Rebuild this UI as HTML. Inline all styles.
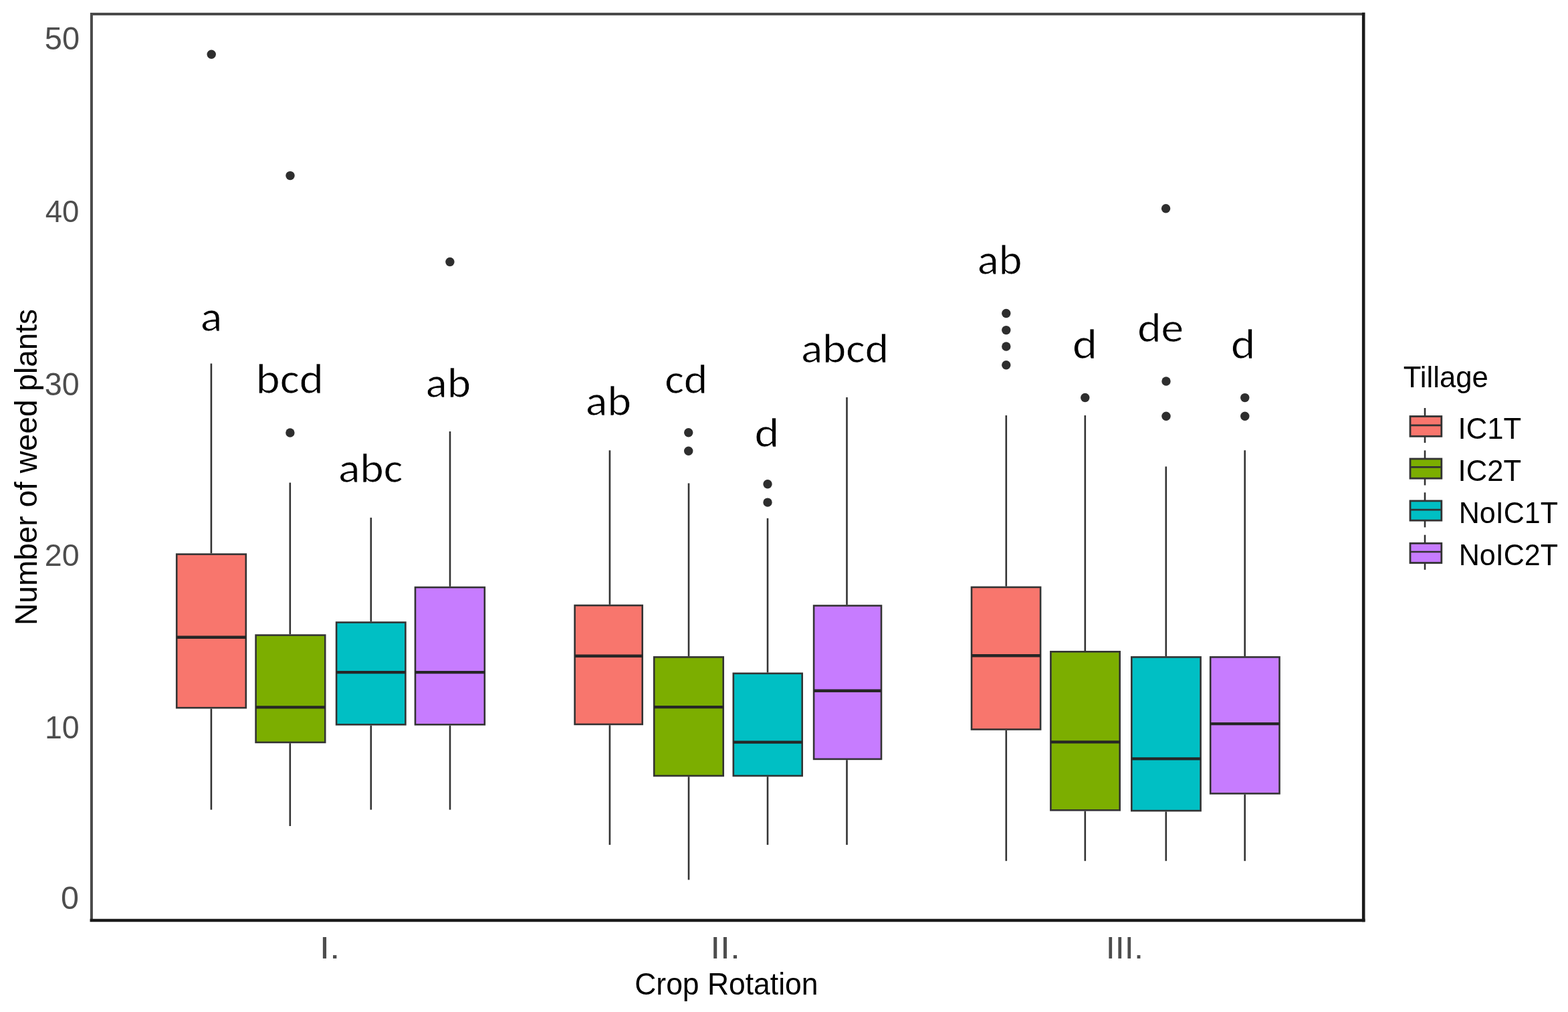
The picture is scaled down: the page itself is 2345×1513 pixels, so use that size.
<!DOCTYPE html>
<html><head><meta charset="utf-8"><title>Number of weed plants by Crop Rotation and Tillage</title>
<style>
html,body{margin:0;padding:0;background:#fff;}
svg{display:block;}
.tk{font-family:"Liberation Sans",Arial,sans-serif;font-size:46px;fill:#4d4d4d;}
.ti{font-family:"Liberation Sans",Arial,sans-serif;font-size:46px;fill:#000;}
.lg{font-family:"Liberation Sans",Arial,sans-serif;font-size:44px;fill:#000;}
.lt{font-family:"Carlito","Liberation Sans",sans-serif;font-size:65px;fill:#000;stroke:#fff;stroke-width:0.7px;paint-order:fill stroke;}
</style></head>
<body>
<svg width="2345" height="1513" viewBox="0 0 2345 1513">
<rect x="0" y="0" width="2345" height="1513" fill="#fff"/>
<g stroke="#333333" fill="none">
<line x1="315.9" y1="543.5" x2="315.9" y2="827.3" stroke-width="2.6"/><line x1="315.9" y1="1059.5" x2="315.9" y2="1210.6" stroke-width="2.6"/>
<line x1="433.8" y1="721.6" x2="433.8" y2="948.3" stroke-width="2.6"/><line x1="433.8" y1="1111.2" x2="433.8" y2="1235.0" stroke-width="2.6"/>
<line x1="554.8" y1="773.9" x2="554.8" y2="929.2" stroke-width="2.6"/><line x1="554.8" y1="1084.6" x2="554.8" y2="1210.6" stroke-width="2.6"/>
<line x1="673.0" y1="645.0" x2="673.0" y2="876.8" stroke-width="2.6"/><line x1="673.0" y1="1084.6" x2="673.0" y2="1210.6" stroke-width="2.6"/>
<line x1="911.9" y1="673.3" x2="911.9" y2="903.8" stroke-width="2.6"/><line x1="911.9" y1="1084.2" x2="911.9" y2="1263.1" stroke-width="2.6"/>
<line x1="1030.0" y1="722.4" x2="1030.0" y2="981.1" stroke-width="2.6"/><line x1="1030.0" y1="1161.2" x2="1030.0" y2="1315.4" stroke-width="2.6"/>
<line x1="1148.0" y1="774.8" x2="1148.0" y2="1005.5" stroke-width="2.6"/><line x1="1148.0" y1="1161.2" x2="1148.0" y2="1263.1" stroke-width="2.6"/>
<line x1="1266.5" y1="593.9" x2="1266.5" y2="904.2" stroke-width="2.6"/><line x1="1266.5" y1="1136.2" x2="1266.5" y2="1263.1" stroke-width="2.6"/>
<line x1="1504.8" y1="621.0" x2="1504.8" y2="876.6" stroke-width="2.6"/><line x1="1504.8" y1="1091.8" x2="1504.8" y2="1287.2" stroke-width="2.6"/>
<line x1="1622.8" y1="621.0" x2="1622.8" y2="973.0" stroke-width="2.6"/><line x1="1622.8" y1="1212.6" x2="1622.8" y2="1287.2" stroke-width="2.6"/>
<line x1="1743.8" y1="697.5" x2="1743.8" y2="981.1" stroke-width="2.6"/><line x1="1743.8" y1="1213.4" x2="1743.8" y2="1287.2" stroke-width="2.6"/>
<line x1="1861.7" y1="673.2" x2="1861.7" y2="981.1" stroke-width="2.6"/><line x1="1861.7" y1="1187.7" x2="1861.7" y2="1287.2" stroke-width="2.6"/>
</g>
<rect x="264.2" y="828.6" width="103.6" height="229.6" fill="#F8766D" stroke="#333333" stroke-width="2.6"/><line x1="264.2" y1="952.7" x2="367.8" y2="952.7" stroke="#262626" stroke-width="4.4"/>
<rect x="382.6" y="949.6" width="103.6" height="160.3" fill="#7CAE00" stroke="#333333" stroke-width="2.6"/><line x1="382.6" y1="1057.4" x2="486.2" y2="1057.4" stroke="#262626" stroke-width="4.4"/>
<rect x="503.1" y="930.5" width="103.3" height="152.8" fill="#00BFC4" stroke="#333333" stroke-width="2.6"/><line x1="503.1" y1="1005.1" x2="606.4" y2="1005.1" stroke="#262626" stroke-width="4.4"/>
<rect x="621.0" y="878.1" width="103.8" height="205.2" fill="#C77CFF" stroke="#333333" stroke-width="2.6"/><line x1="621.0" y1="1005.1" x2="724.8" y2="1005.1" stroke="#262626" stroke-width="4.4"/>
<rect x="859.6" y="905.1" width="101.1" height="177.8" fill="#F8766D" stroke="#333333" stroke-width="2.6"/><line x1="859.6" y1="980.7" x2="960.7" y2="980.7" stroke="#262626" stroke-width="4.4"/>
<rect x="978.2" y="982.4" width="103.5" height="177.5" fill="#7CAE00" stroke="#333333" stroke-width="2.6"/><line x1="978.2" y1="1057.1" x2="1081.7" y2="1057.1" stroke="#262626" stroke-width="4.4"/>
<rect x="1096.8" y="1006.8" width="102.9" height="153.1" fill="#00BFC4" stroke="#333333" stroke-width="2.6"/><line x1="1096.8" y1="1109.6" x2="1199.7" y2="1109.6" stroke="#262626" stroke-width="4.4"/>
<rect x="1217.1" y="905.5" width="100.9" height="229.4" fill="#C77CFF" stroke="#333333" stroke-width="2.6"/><line x1="1217.1" y1="1032.7" x2="1318.0" y2="1032.7" stroke="#262626" stroke-width="4.4"/>
<rect x="1453.0" y="877.9" width="103.1" height="212.6" fill="#F8766D" stroke="#333333" stroke-width="2.6"/><line x1="1453.0" y1="980.3" x2="1556.1" y2="980.3" stroke="#262626" stroke-width="4.4"/>
<rect x="1571.4" y="974.3" width="103.3" height="237.0" fill="#7CAE00" stroke="#333333" stroke-width="2.6"/><line x1="1571.4" y1="1109.4" x2="1674.7" y2="1109.4" stroke="#262626" stroke-width="4.4"/>
<rect x="1692.3" y="982.4" width="103.3" height="229.7" fill="#00BFC4" stroke="#333333" stroke-width="2.6"/><line x1="1692.3" y1="1134.4" x2="1795.6" y2="1134.4" stroke="#262626" stroke-width="4.4"/>
<rect x="1810.2" y="982.4" width="103.3" height="204.0" fill="#C77CFF" stroke="#333333" stroke-width="2.6"/><line x1="1810.2" y1="1082.1" x2="1913.5" y2="1082.1" stroke="#262626" stroke-width="4.4"/>
<g fill="#2e2e2e">
<circle cx="316.2" cy="81.3" r="6.7"/><circle cx="434.0" cy="262.6" r="6.7"/><circle cx="433.9" cy="647.0" r="6.7"/><circle cx="672.9" cy="391.5" r="6.7"/><circle cx="1029.7" cy="646.7" r="6.7"/><circle cx="1029.7" cy="674.3" r="6.7"/><circle cx="1148.0" cy="723.7" r="6.7"/><circle cx="1148.0" cy="751.1" r="6.7"/><circle cx="1504.8" cy="468.5" r="6.7"/><circle cx="1504.8" cy="493.6" r="6.7"/><circle cx="1504.8" cy="518.0" r="6.7"/><circle cx="1504.8" cy="545.8" r="6.7"/><circle cx="1622.8" cy="594.5" r="6.7"/><circle cx="1743.6" cy="311.8" r="6.7"/><circle cx="1744.0" cy="570.0" r="6.7"/><circle cx="1744.0" cy="622.3" r="6.7"/><circle cx="1861.8" cy="594.6" r="6.7"/><circle cx="1861.8" cy="622.3" r="6.7"/>
</g>
<text class="lt" transform="translate(299.68,494.6) scale(1.0417,0.9656)">a</text>
<text class="lt" transform="translate(382.62,587.9) scale(1.057,0.9674)">bcd</text>
<text class="lt" transform="translate(505.98,720.6) scale(1.0398,0.963)">abc</text>
<text class="lt" transform="translate(636.6,594.2) scale(1.0333,0.9761)">ab</text>
<text class="lt" transform="translate(875.66,621.0) scale(1.045,0.9674)">ab</text>
<text class="lt" transform="translate(994.17,587.6) scale(1.0444,0.9543)">cd</text>
<text class="lt" transform="translate(1128.47,667.6) scale(1.0769,0.9522)">d</text>
<text class="lt" transform="translate(1197.9,541.6) scale(1.0328,0.9522)">abcd</text>
<text class="lt" transform="translate(1461.63,410.0) scale(1.0233,0.9674)">ab</text>
<text class="lt" transform="translate(1603.95,536.0) scale(1.0846,0.9674)">d</text>
<text class="lt" transform="translate(1701.19,511.3) scale(1.0377,0.963)">de</text>
<text class="lt" transform="translate(1841.09,536.0) scale(1.0692,0.9674)">d</text>
<g fill="none" stroke-linecap="square"><line x1="136.9" y1="21" x2="136.9" y2="1376" stroke="#4a4a4a" stroke-width="4"/><line x1="136.9" y1="21" x2="2039.2" y2="21" stroke="#4a4a4a" stroke-width="3.8"/><line x1="2039.2" y1="21" x2="2039.2" y2="1376" stroke="#1a1a1a" stroke-width="4.6"/><line x1="136.9" y1="1376" x2="2039.2" y2="1376" stroke="#1a1a1a" stroke-width="4.6"/></g>
<text class="tk" transform="translate(66.76,74.2) scale(1.0213,1.0281)">50</text>
<text class="tk" transform="translate(67.81,332.3) scale(0.9896,1.0156)">40</text>
<text class="tk" transform="translate(66.77,590.5) scale(1.0149,1.0375)">30</text>
<text class="tk" transform="translate(66.77,846.2) scale(1.0149,1.0219)">20</text>
<text class="tk" transform="translate(66.96,1103.8) scale(1.0111,1.0375)">10</text>
<text class="tk" transform="translate(90.89,1359.3) scale(1.0545,1.0406)">0</text>
<text class="tk" transform="translate(477.68,1433.0) scale(1.2059,1.0156)">I.</text>
<text class="tk" transform="translate(1062.13,1433.0) scale(1.1667,1.0156)">II.</text>
<text class="tk" transform="translate(1653.81,1432.6) scale(1.0977,1.0)">III.</text>
<text class="ti" transform="translate(949.27,1486.5) scale(0.9663,1.0)">Crop Rotation</text>
<text class="ti" transform="translate(54.6,698.4) rotate(-90)" x="0" y="0" text-anchor="middle">Number of weed plants</text>
<text class="lg" transform="translate(2098.81,578.9) scale(0.992,1.0)">Tillage</text>
<line x1="2131" y1="610.0" x2="2131" y2="662.0" stroke="#333333" stroke-width="2.6"/><rect x="2109.0" y="622.5" width="46.8" height="29.8" fill="#F8766D" stroke="#333333" stroke-width="2.8"/><line x1="2109.0" y1="635.9" x2="2155.8" y2="635.9" stroke="#333333" stroke-width="2.6"/>
<line x1="2131" y1="673.4" x2="2131" y2="725.5" stroke="#333333" stroke-width="2.6"/><rect x="2109.0" y="686.0" width="46.8" height="29.2" fill="#7CAE00" stroke="#333333" stroke-width="2.8"/><line x1="2109.0" y1="698.4" x2="2155.8" y2="698.4" stroke="#333333" stroke-width="2.6"/>
<line x1="2131" y1="736.3" x2="2131" y2="788.4" stroke="#333333" stroke-width="2.6"/><rect x="2109.0" y="748.9" width="46.8" height="29.2" fill="#00BFC4" stroke="#333333" stroke-width="2.8"/><line x1="2109.0" y1="762.1" x2="2155.8" y2="762.1" stroke="#333333" stroke-width="2.6"/>
<line x1="2131" y1="799.7" x2="2131" y2="851.8" stroke="#333333" stroke-width="2.6"/><rect x="2109.0" y="812.3" width="46.8" height="29.2" fill="#C77CFF" stroke="#333333" stroke-width="2.8"/><line x1="2109.0" y1="825.0" x2="2155.8" y2="825.0" stroke="#333333" stroke-width="2.6"/>
<text class="lg" transform="translate(2180.54,655.8) scale(0.9911,1.0129)">IC1T</text>
<text class="lg" transform="translate(2180.54,718.9) scale(0.9911,1.0194)">IC2T</text>
<text class="lg" transform="translate(2181.69,781.6) scale(0.9782,0.9968)">NoIC1T</text>
<text class="lg" transform="translate(2181.69,845.2) scale(0.9782,1.0194)">NoIC2T</text>
</svg>
</body></html>
